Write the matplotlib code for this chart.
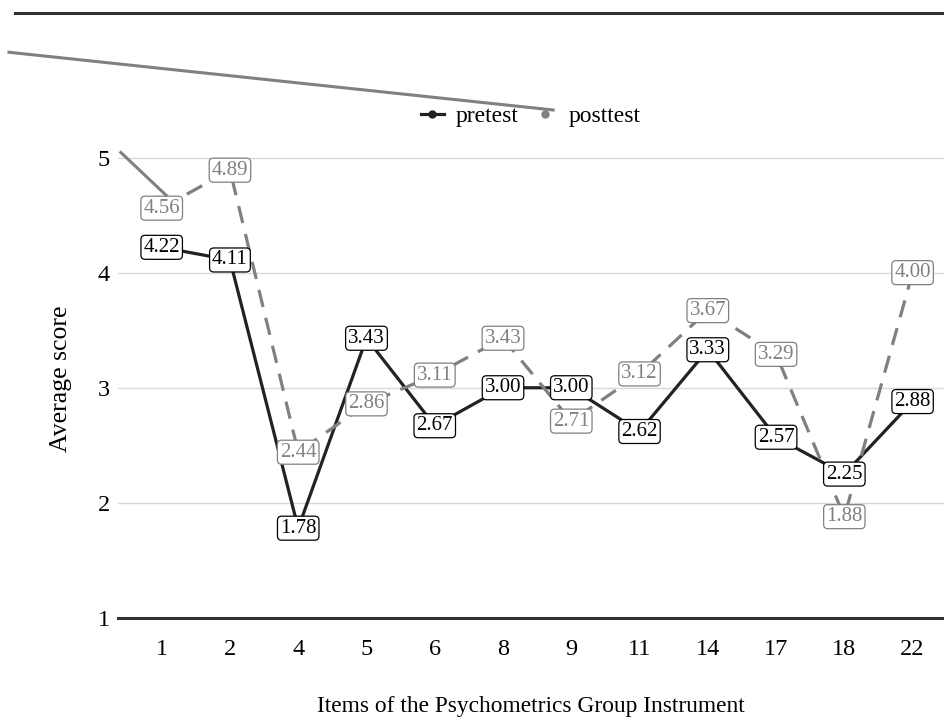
import matplotlib
matplotlib.use("Agg")
import matplotlib.pyplot as plt
from matplotlib.lines import Line2D

plt.rcParams["font.family"] = ["Liberation Serif", "DejaVu Serif"]

# data
items = ["1", "2", "4", "5", "6", "8", "9", "11", "14", "17", "18", "22"]
pretest = [4.22, 4.11, 1.78, 3.43, 2.67, 3.00, 3.00, 2.62, 3.33, 2.57, 2.25, 2.88]
posttest = [4.56, 4.89, 2.44, 2.86, 3.11, 3.43, 2.71, 3.12, 3.67, 3.29, 1.88, 4.00]
y_ticks = [1, 2, 3, 4, 5]

PRE_COLOR = "#222222"
POST_COLOR = "#808080"

fig = plt.figure(figsize=(9.44, 7.26), dpi=100)
ax = fig.add_axes([0.125, 0.1488, 0.875, 0.658])

x = list(range(len(items)))
ax.plot(x, pretest, color=PRE_COLOR, lw=2.3, solid_capstyle="butt", zorder=3)
ax.plot(x, posttest, color=POST_COLOR, lw=2.3, dashes=(5.5, 3.5), zorder=3)

# value labels, posttest underneath pretest
box = dict(boxstyle="round,pad=0.12,rounding_size=0.2", fc="white", lw=0.9)
for xi, v in zip(x, posttest):
    ax.text(xi, v, f"{v:.2f}", ha="center", va="center", fontsize=15,
            color=POST_COLOR, zorder=4, bbox=dict(box, ec=POST_COLOR))
for xi, v in zip(x, pretest):
    ax.text(xi, v, f"{v:.2f}", ha="center", va="center", fontsize=15,
            color="black", zorder=5, bbox=dict(box, ec="black"))

ax.set_xlim(-0.64, len(items) - 0.54)
ax.set_ylim(1, 5.15)
ax.set_xticks(x)
ax.set_xticklabels(items)
ax.set_yticks(y_ticks)
ax.tick_params(axis="both", length=0, labelsize=17.5, colors="black")
ax.tick_params(axis="x", pad=15)
ax.tick_params(axis="y", pad=6)
ax.grid(axis="y", color="#d9d9d9", lw=1.0)
ax.set_axisbelow(True)
for side in ["top", "right", "left"]:
    ax.spines[side].set_visible(False)
ax.spines["bottom"].set_color("#333333")
ax.spines["bottom"].set_linewidth(2.2)

ax.set_xlabel("Items of the Psychometrics Group Instrument", fontsize=16.8, labelpad=26)
ax.set_ylabel("Average score", fontsize=18.5, labelpad=18)

handles = [
    Line2D([], [], color=PRE_COLOR, lw=2.3, marker="o", markersize=5),
    Line2D([], [], color=POST_COLOR, lw=0, marker="o", markersize=5),
]
fig.legend(handles, ["pretest", "posttest"], loc="center",
           bbox_to_anchor=(0.562, 0.840), ncol=2, frameon=False, fontsize=17,
           handlelength=1.0, handletextpad=0.5, columnspacing=0.6)

# stray strokes present in the reference rendering
fig.add_artist(Line2D([0.016, 1.0], [0.982, 0.982], color="#333333", lw=2.2,
                      transform=fig.transFigure))
fig.add_artist(Line2D([0.0095, 0.586], [0.928, 0.8485], color=POST_COLOR, lw=2.2,
                      transform=fig.transFigure))
fig.add_artist(Line2D([0.128, 0.176], [0.790, 0.731], color=POST_COLOR, lw=2.2,
                      transform=fig.transFigure))

fig.savefig("out.png", dpi=100)
